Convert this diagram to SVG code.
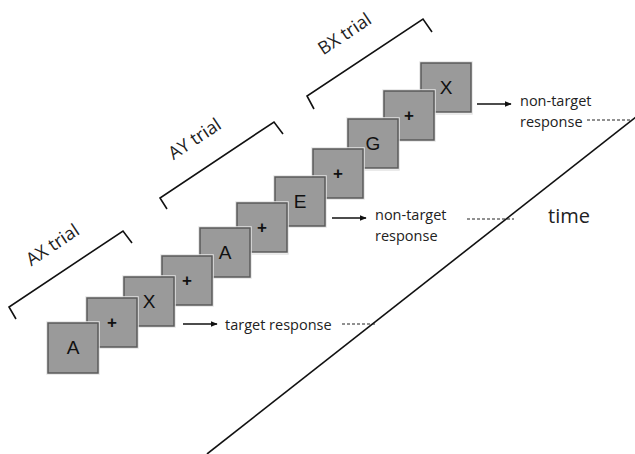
<svg xmlns="http://www.w3.org/2000/svg" width="635" height="454" viewBox="0 0 635 454">
<defs>
<style>
.box{fill:#9a9a9a;stroke:#5a5a5a;stroke-width:1.5}
.halo{fill:none;stroke:#e4e4e4;stroke-width:1.5}
.let{font-family:"Liberation Sans",Arial,sans-serif;font-size:19px;fill:#111;text-anchor:middle}
.plus{font-family:"Liberation Sans",Arial,sans-serif;font-size:17px;font-weight:bold;fill:#111;text-anchor:middle}
.lbl{font-family:"Open Sans","Liberation Sans",sans-serif;font-size:14.5px;fill:#222}
.trial{font-family:"Open Sans","Liberation Sans",sans-serif;font-size:18px;fill:#222;text-anchor:middle}
.ln{fill:none;stroke:#111;stroke-width:1.6}
.dash{fill:none;stroke:#222;stroke-width:1;stroke-dasharray:3,2}
</style>
<marker id="ah" viewBox="0 0 10 10" refX="9" refY="5" markerWidth="7" markerHeight="7" orient="auto" markerUnits="userSpaceOnUse">
<path d="M0,1 L10,5 L0,9 Z" fill="#111"/>
</marker>
</defs>
<rect width="635" height="454" fill="#fff"/>

<g id="connectors">
<line class="ln" x1="207" y1="454" x2="636" y2="117"/>
<line class="ln" x1="183" y1="324" x2="217" y2="324" marker-end="url(#ah)"/>
<line class="ln" x1="332" y1="218" x2="366" y2="218" marker-end="url(#ah)"/>
<line class="ln" x1="477" y1="104" x2="511" y2="104" marker-end="url(#ah)"/>
<line class="dash" x1="342" y1="324" x2="376" y2="324"/>
<line class="dash" x1="467" y1="219" x2="514" y2="219"/>
<line class="dash" x1="587" y1="120" x2="632" y2="120"/>
</g>

<g id="brackets">
<polyline class="ln" points="16,319 9,307 123,231 132,243"/>
<polyline class="ln" points="167,209 160,198 274,122 283,134"/>
<polyline class="ln" points="314,109 307,96 423,19 432,32"/>
</g>

<g id="labels">
<text class="trial" transform="translate(56,250) rotate(-33.7)">AX trial</text>
<text class="trial" transform="translate(198,144) rotate(-33.7)">AY trial</text>
<text class="trial" transform="translate(348,39) rotate(-33.7)">BX trial</text>
<text class="lbl" x="225" y="330">target response</text>
<text class="lbl" x="375" y="220">non-target</text>
<text class="lbl" x="375" y="241">response</text>
<text class="lbl" x="520" y="106">non-target</text>
<text class="lbl" x="520" y="127">response</text>
<text x="548" y="223" style="font-family:'Open Sans','Liberation Sans',sans-serif;font-size:20px;fill:#222">time</text>
</g>

<g id="node11"><rect class="halo" x="420" y="62" width="52" height="52"/><rect class="box" x="421" y="63" width="50" height="49"/><text class="let" x="446" y="94">X</text></g>
<g id="node10"><rect class="halo" x="383" y="90" width="52" height="51"/><rect class="box" x="384" y="91" width="50" height="49"/><text class="plus" x="409" y="121">+</text></g>
<g id="node9"><rect class="halo" x="347" y="118" width="52" height="52"/><rect class="box" x="348" y="119" width="50" height="49"/><text class="let" x="373" y="150">G</text></g>
<g id="node8"><rect class="halo" x="312" y="148" width="52" height="51"/><rect class="box" x="313" y="149" width="50" height="49"/><text class="plus" x="338" y="179">+</text></g>
<g id="node7"><rect class="halo" x="274" y="176" width="52" height="51"/><rect class="box" x="275" y="177" width="50" height="49"/><text class="let" x="300" y="208">E</text></g>
<g id="node6"><rect class="halo" x="236" y="202" width="52" height="52"/><rect class="box" x="237" y="203" width="50" height="49"/><text class="plus" x="262" y="233">+</text></g>
<g id="node5"><rect class="halo" x="199" y="227" width="52" height="51"/><rect class="box" x="200" y="228" width="50" height="49"/><text class="let" x="225" y="259">A</text></g>
<g id="node4"><rect class="halo" x="161" y="255" width="52" height="51"/><rect class="box" x="162" y="256" width="50" height="49"/><text class="plus" x="187" y="286">+</text></g>
<g id="node3"><rect class="halo" x="123" y="276" width="52" height="51"/><rect class="box" x="124" y="277" width="50" height="49"/><text class="let" x="149" y="308">X</text></g>
<g id="node2"><rect class="halo" x="86" y="297" width="52" height="51"/><rect class="box" x="87" y="298" width="50" height="49"/><text class="plus" x="112" y="328">+</text></g>
<g id="node1"><rect class="halo" x="47" y="322" width="52" height="52"/><rect class="box" x="48" y="323" width="50" height="50"/><text class="let" x="73" y="354">A</text></g>
</svg>
